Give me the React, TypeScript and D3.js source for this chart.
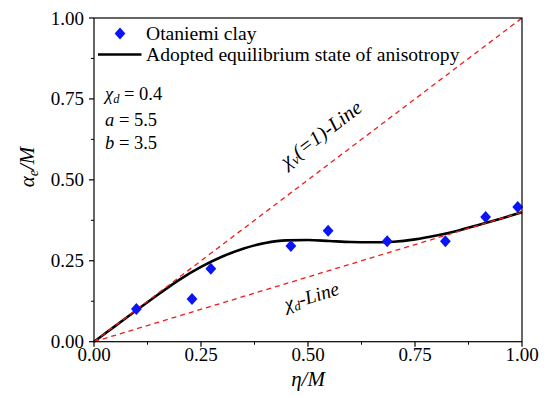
import React from "react";
import * as d3 from "d3";

// Measured points (Otaniemi clay)
const pointEta = [0.099, 0.229, 0.273, 0.46, 0.547, 0.685, 0.821, 0.915, 0.99];
const pointAlpha = [0.101, 0.132, 0.225, 0.296, 0.343, 0.31, 0.31, 0.385, 0.416];

// Adopted equilibrium state of anisotropy
const curveEta = [0, 0.05, 0.1, 0.15, 0.2, 0.25, 0.3, 0.35, 0.4, 0.45, 0.5, 0.55, 0.6, 0.65, 0.7, 0.75, 0.8, 0.85, 0.9, 0.95, 1.0];
const curveAlpha = [0, 0.049, 0.098, 0.146, 0.192, 0.231, 0.263, 0.288, 0.305, 0.313, 0.314, 0.311, 0.308, 0.307, 0.309, 0.316, 0.328, 0.343, 0.361, 0.38, 0.4];

// Reference lines through the origin
const chiV = 1;
const chiD = 0.4;

const xTicks = [0, 0.25, 0.5, 0.75, 1.0];
const yTicks = [0, 0.25, 0.5, 0.75, 1.0];
const minorTicks = [0.125, 0.375, 0.625, 0.875];

const W = 545;
const H = 397;
const L = 94, R = 522, T = 18, B = 341.7;
const FONT = "'Liberation Serif', Tinos, 'Times New Roman', 'DejaVu Serif', serif";
const RED = "#f21a1a";

export default function App() {
  const x = d3.scaleLinear().domain([0, 1]).range([L, R]);
  const y = d3.scaleLinear().domain([0, 1]).range([B, T]);

  const curve = d3
    .line<number>()
    .x((_, i) => x(curveEta[i]))
    .y((_, i) => y(curveAlpha[i]))
    .curve(d3.curveMonotoneX)(curveEta) as string;

  const refLine = (slope: number) =>
    d3.line<number>().x((v) => x(v)).y((v) => y(slope * v))([0, 1]) as string;

  const angle = (slope: number) =>
    (Math.atan2(y(slope) - y(0), x(1) - x(0)) * 180) / Math.PI;

  const diamond = (cx: number, cy: number) =>
    `M${cx},${cy - 6}L${cx + 5.4},${cy}L${cx},${cy + 6}L${cx - 5.4},${cy}Z`;

  const fmt = d3.format(".2f");

  // label placement along the reference lines
  const vAt = 0.47;
  const dAt = 0.47;

  const ts = { fontFamily: FONT };

  return (
    <svg
      width={W}
      height={H}
      style={{ position: "absolute", left: 0, top: 0, background: "#fff", fontFamily: FONT }}
    >
      <rect x={0} y={0} width={W} height={H} fill="#fff" />

      {/* fitted curve */}
      <path d={curve} fill="none" stroke="#000" strokeWidth={2.6} />

      {/* reference lines */}
      <path d={refLine(chiV)} fill="none" stroke={RED} strokeWidth={1.3} strokeDasharray="5,4" />
      <path d={refLine(chiD)} fill="none" stroke={RED} strokeWidth={1.3} strokeDasharray="5,4" />

      {/* measured points */}
      {pointEta.map((v, i) => (
        <path key={i} d={diamond(x(v), y(pointAlpha[i]))} fill="#0a14f5" />
      ))}

      {/* frame */}
      <rect x={L} y={T} width={R - L} height={B - T} fill="none" stroke="#000" strokeWidth={1.2} />

      {/* x ticks */}
      {xTicks.map((t) => (
        <g key={"x" + t}>
          <line x1={x(t)} x2={x(t)} y1={B} y2={B + 5} stroke="#000" strokeWidth={1.2} />
          <text style={ts} x={x(t)} y={361} textAnchor="middle" fontSize={19}>
            {fmt(t)}
          </text>
        </g>
      ))}
      {minorTicks.map((t) => (
        <line key={"xm" + t} x1={x(t)} x2={x(t)} y1={B} y2={B + 3} stroke="#000" strokeWidth={1} />
      ))}

      {/* y ticks */}
      {yTicks.map((t) => (
        <g key={"y" + t}>
          <line x1={L - 5} x2={L} y1={y(t)} y2={y(t)} stroke="#000" strokeWidth={1.2} />
          <text style={ts} x={84} y={y(t) + 6.5} textAnchor="end" fontSize={19}>
            {fmt(t)}
          </text>
        </g>
      ))}
      {minorTicks.map((t) => (
        <line key={"ym" + t} x1={L - 3} x2={L} y1={y(t)} y2={y(t)} stroke="#000" strokeWidth={1} />
      ))}

      {/* axis titles */}
      <text style={ts} x={(L + R) / 2} y={386} textAnchor="middle" fontSize={21} fontStyle="italic">
        η/M
      </text>
      <text
        style={ts}
        transform={`translate(34,167) rotate(-90)`}
        textAnchor="middle"
        fontSize={21}
        fontStyle="italic"
      >
        α<tspan fontSize={14} dy={4}>e</tspan>
        <tspan dy={-4}>/M</tspan>
      </text>

      {/* legend */}
      <path d={diamond(120, 33.5)} fill="#0a14f5" />
      <text style={ts} x={146} y={40} fontSize={19.6}>
        Otaniemi clay
      </text>
      <line x1={98} x2={141.5} y1={54.5} y2={54.5} stroke="#000" strokeWidth={2.6} />
      <text style={ts} x={146} y={61} fontSize={19.6}>
        Adopted equilibrium state of anisotropy
      </text>

      {/* parameters */}
      <text style={ts} x={105} y={100} fontSize={18.5}>
        <tspan fontStyle="italic">χ</tspan>
        <tspan fontSize={12.5} fontStyle="italic" dy={3}>d</tspan>
        <tspan dy={-3}> = 0.4</tspan>
      </text>
      <text style={ts} x={105} y={126} fontSize={18.5}>
        <tspan fontStyle="italic">a</tspan> = 5.5
      </text>
      <text style={ts} x={105} y={149} fontSize={18.5}>
        <tspan fontStyle="italic">b</tspan> = 3.5
      </text>

      {/* line labels */}
      <text
        style={ts}
        transform={`translate(${x(vAt)},${y(chiV * vAt)}) rotate(${angle(chiV)}) translate(6,-22)`}
        fontSize={20.5}
        fontStyle="italic"
      >
        χ<tspan fontSize={14} dy={3}>v</tspan>
        <tspan dy={-3}>(=1)-Line</tspan>
      </text>
      <text
        style={ts}
        transform={`translate(${x(dAt)},${y(chiD * dAt)}) rotate(${angle(chiD)}) translate(-17,26)`}
        fontSize={19.5}
        fontStyle="italic"
      >
        χ<tspan fontSize={13} dy={3}>d</tspan>
        <tspan dy={-3}>-Line</tspan>
      </text>
    </svg>
  );
}
